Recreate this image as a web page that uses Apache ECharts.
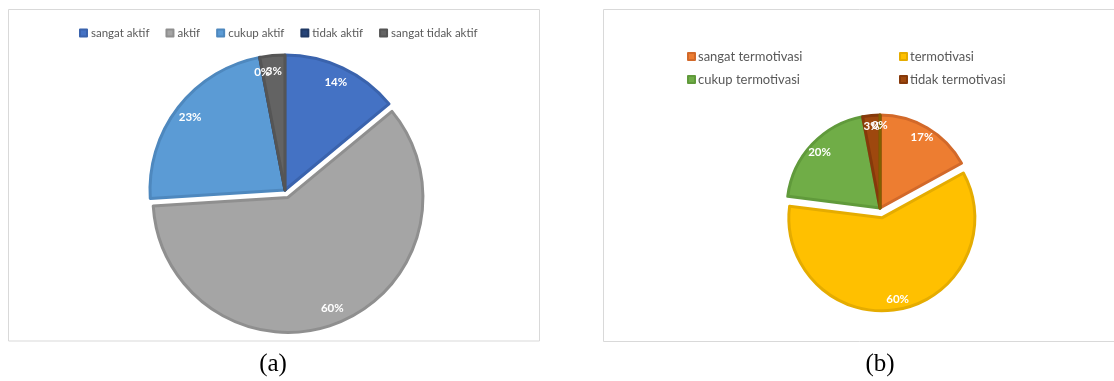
<!DOCTYPE html>
<html>
<head>
<meta charset="utf-8">
<script src="https://cdn.jsdelivr.net/npm/echarts@6/dist/echarts.min.js"></script>
<style>
  html, body { margin: 0; padding: 0; background: #fff; }
  #main { width: 1114px; height: 381px; }
</style>
</head>
<body>
<div id="main"></div>
<script>
// data (a) keaktifan
var namaA = ['sangat aktif', 'aktif', 'cukup aktif', 'tidak aktif', 'sangat tidak aktif'];
var nilaiA = [14, 60, 23, 0, 3];
var warnaA = ['#4472C4', '#A5A5A5', '#5B9BD5', '#264478', '#636363'];
var garisA = ['#3A63AD', '#8F8F8F', '#4E88BE', '#1F3864', '#555555'];

// data (b) motivasi (item ke-5 = 0, tidak tampil di legend)
var namaB = ['sangat termotivasi', 'termotivasi', 'cukup termotivasi', 'tidak termotivasi', 'sangat tidak termotivasi'];
var nilaiB = [17, 60, 20, 3, 0];
var warnaB = ['#ED7D31', '#FFC000', '#70AD47', '#9E480E', '#997300'];
var garisB = ['#D2692A', '#E5AC00', '#609A3B', '#86390A', '#806000'];

var judul = ['(a)', '(b)'];

function buatData(nama, nilai, warna, garis, pilih, transparan) {
    return nama.map(function (n, i) {
        return {
            name: n,
            value: nilai[i],
            selected: i === pilih,
            itemStyle: transparan
                ? { color: 'rgba(0,0,0,0)', borderWidth: 0 }
                : { color: warna[i], borderColor: garis[i], borderWidth: 3 }
        };
    });
}

var labelPct = {
    show: true,
    position: 'inside',
    formatter: '{d}%',
    color: '#fff',
    fontFamily: 'Lato',
    fontWeight: 'bold',
    fontSize: 11.5
};

function pie(nama, nilai, warna, garis, center, radius, offset, withLabel) {
    return {
        type: 'pie',
        center: center,
        radius: radius,
        startAngle: 90,
        clockwise: true,
        minAngle: withLabel ? 0.4 : 0,
        avoidLabelOverlap: false,
        labelLayout: { hideOverlap: false },
        minShowLabelAngle: 0,
        selectedMode: 'single',
        selectedOffset: offset,
        silent: withLabel,
        animation: false,
        percentPrecision: 0,
        label: withLabel ? labelPct : { show: false },
        labelLine: { show: false },
        emphasis: { disabled: true },
        data: buatData(nama, nilai, warna, garis, 1, withLabel)
    };
}

function legendB(nama, left, top) {
    return {
        data: [nama],
        top: top,
        left: left,
        icon: 'rect',
        itemWidth: 7,
        itemHeight: 7,
        selectedMode: false,
        textStyle: { color: '#595959', fontSize: 13, fontFamily: 'Lato', padding: [0, 0, 0, -2] }
    };
}

var myChart = echarts.init(document.getElementById('main'));

var option = {
    backgroundColor: '#fff',
    animation: false,
    legend: [{
        data: namaA,
        top: 22,
        left: 74,
        icon: 'rect',
        itemWidth: 7,
        itemHeight: 7,
        itemGap: 16,
        selectedMode: false,
        textStyle: { color: '#595959', fontSize: 11.5, fontFamily: 'Lato', padding: [0, 0, 0, -1] }
    },
        legendB(namaB[0], 682, 45),
        legendB(namaB[1], 894, 45),
        legendB(namaB[2], 682, 68),
        legendB(namaB[3], 894, 68)
    ],
    graphic: [
        { type: 'rect', shape: { x: 8.5, y: 9.5, width: 531, height: 331.5 },
          style: { fill: 'none', stroke: '#D9D9D9', lineWidth: 1 }, z: -10 },
        { type: 'rect', shape: { x: 603.5, y: 9.5, width: 530, height: 332 },
          style: { fill: 'none', stroke: '#D9D9D9', lineWidth: 1 }, z: -10 },
        { type: 'text', x: 273, y: 364,
          style: { text: judul[0], fill: '#000', font: '25px "Liberation Serif"', textAlign: 'center', textVerticalAlign: 'middle' } },
        { type: 'text', x: 880, y: 364,
          style: { text: judul[1], fill: '#000', font: '25px "Liberation Serif"', textAlign: 'center', textVerticalAlign: 'middle' } }
    ],
    series: [
        pie(namaA, nilaiA, warnaA, garisA, [285, 190], [0, 135], 8, false),
        pie(namaB, nilaiB, warnaB, garisB, [880, 208], [0, 93], 10, false),
        pie(namaA, nilaiA, warnaA, garisA, [285, 190], [98, 135], 8, true),
        pie(namaB, nilaiB, warnaB, garisB, [880, 208], [66, 93], 10, true)
    ]
};

myChart.setOption(option);
</script>
</body>
</html>
